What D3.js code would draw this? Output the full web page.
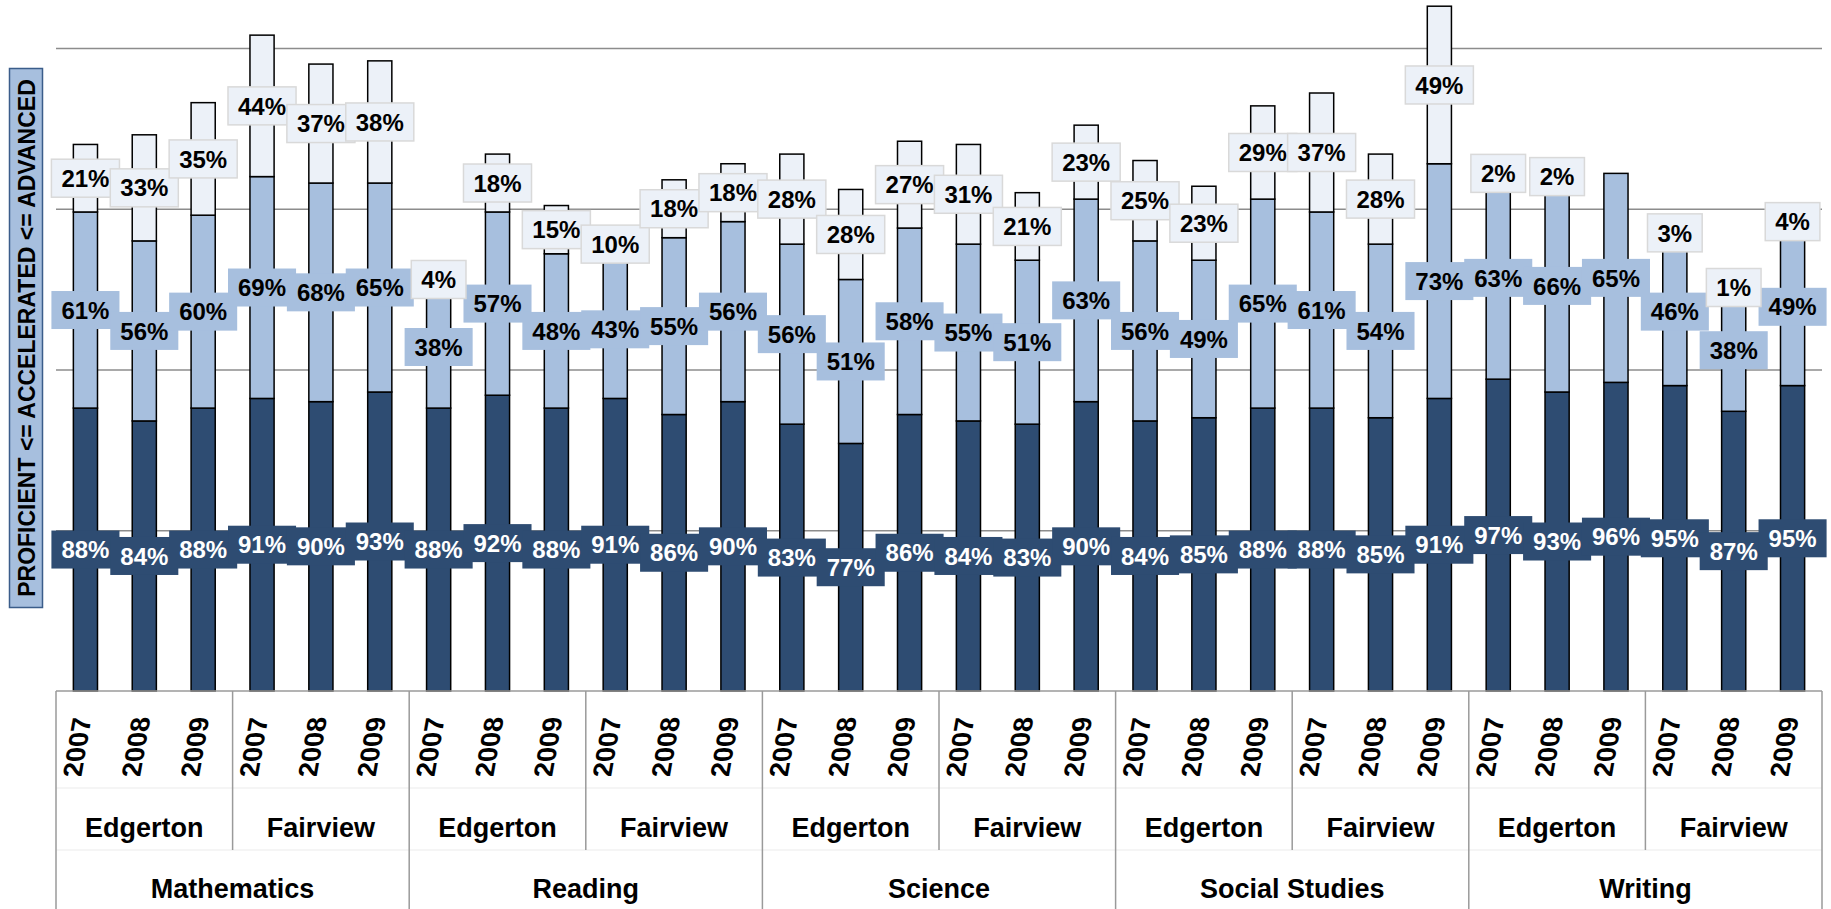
<!DOCTYPE html>
<html>
<head>
<meta charset="utf-8">
<script src="https://cdn.jsdelivr.net/npm/d3@7"></script>
<style>
  body { margin: 0; background: #fff; }
  svg { font-family: "Liberation Sans", Arial, sans-serif; font-weight: bold; }
</style>
</head>
<body>
<div id="chart"></div>
<script>
var w = 1831;
var h = 909;

var subjects = ["Mathematics", "Reading", "Science", "Social Studies", "Writing"];
var schools = ["Edgerton", "Fairview"];
var years = ["2007", "2008", "2009"];

// one value per bar, subject > school > year order
var proficient = [88, 84, 88, 91, 90, 93,
                  88, 92, 88, 91, 86, 90,
                  83, 77, 86, 84, 83, 90,
                  84, 85, 88, 88, 85, 91,
                  97, 93, 96, 95, 87, 95];
var accelerated = [61, 56, 60, 69, 68, 65,
                   38, 57, 48, 43, 55, 56,
                   56, 51, 58, 55, 51, 63,
                   56, 49, 65, 61, 54, 73,
                   63, 66, 65, 46, 38, 49];
var advanced = [21, 33, 35, 44, 37, 38,
                4, 18, 15, 10, 18, 18,
                28, 28, 27, 31, 21, 23,
                25, 23, 29, 37, 28, 49,
                2, 2, 0, 3, 1, 4];

var gridValues = [50, 100, 150, 200];

var colors = { proficient: "#2e4c72", accelerated: "#a7bfde", advanced: "#ecf1f8" };
var textColors = { proficient: "#ffffff", accelerated: "#000000", advanced: "#000000" };

// build rows
var rows = [];
var i = 0;
subjects.forEach(function(s) {
  schools.forEach(function(sc) {
    years.forEach(function(y) {
      rows.push({ key: s + "|" + sc + "|" + y, subject: s, school: sc, year: y,
                  proficient: proficient[i], accelerated: accelerated[i], advanced: advanced[i] });
      i++;
    });
  });
});

var left = 56, right = 1822, base = 691, plotTop = 48;

var xScale = d3.scaleBand()
  .domain(rows.map(function(d) { return d.key; }))
  .range([left, right])
  .paddingInner(0.59)
  .paddingOuter(0.295);

var yScale = d3.scaleLinear()
  .domain([0, 200])
  .range([base, plotTop]);

var svg = d3.select("#chart").append("svg")
  .attr("width", w)
  .attr("height", h);

// gridlines
var grid = svg.append("g")
  .attr("transform", "translate(" + left + ",0)")
  .call(d3.axisLeft(yScale).tickValues(gridValues).tickSize(-(right - left)).tickFormat(""));
grid.select(".domain").remove();
grid.selectAll("line").attr("stroke", "#8c8c8c").attr("stroke-width", 1.5);

// stacked bars
var keys = ["proficient", "accelerated", "advanced"];
var series = d3.stack().keys(keys)(rows);

var layers = svg.append("g").selectAll("g")
  .data(series)
  .enter().append("g")
  .attr("fill", function(d) { return colors[d.key]; });

layers.selectAll("rect")
  .data(function(d) { return d.filter(function(p) { return p[1] > p[0]; }); })
  .enter().append("rect")
  .attr("x", function(d) { return xScale(d.data.key); })
  .attr("width", xScale.bandwidth())
  .attr("y", function(d) { return yScale(d[1]); })
  .attr("height", function(d) { return yScale(d[0]) - yScale(d[1]); })
  .attr("stroke", "#000")
  .attr("stroke-width", 1.5);

// value labels
series.forEach(function(s) {
  var g = svg.append("g");
  var lab = g.selectAll("g")
    .data(s.filter(function(p) { return p[1] > p[0]; }))
    .enter().append("g")
    .attr("transform", function(d) {
      return "translate(" + (xScale(d.data.key) + xScale.bandwidth() / 2) + "," + yScale((d[0] + d[1]) / 2) + ")";
    });
  var box = lab.append("rect");
  var txt = lab.append("text")
    .attr("text-anchor", "middle")
    .attr("dy", "0.36em")
    .style("font-size", "24px")
    .attr("fill", textColors[s.key])
    .text(function(d) { return (d[1] - d[0]) + "%"; });
  box.each(function(d, j) {
    var tw = txt.nodes()[j].getComputedTextLength() + 20;
    d3.select(this)
      .attr("x", -tw / 2)
      .attr("y", -19)
      .attr("width", tw)
      .attr("height", 38)
      .attr("fill", colors[s.key])
      .attr("stroke", s.key == "advanced" ? "#d9d9d9" : "none")
      .attr("stroke-width", 1.5);
  });
});

// x axis: years
var xAxis = svg.append("g")
  .attr("transform", "translate(0," + base + ")")
  .call(d3.axisBottom(xScale).tickSize(0).tickFormat(function(k) { return k.split("|")[2]; }));
xAxis.select(".domain").remove();
xAxis.selectAll("text")
  .attr("font-family", "Liberation Sans, Arial, sans-serif")
  .style("font-size", "27px")
  .attr("fill", "#000")
  .attr("text-anchor", "middle")
  .attr("x", 0)
  .attr("y", 0)
  .attr("dy", 0)
  .attr("transform", "translate(1,56) rotate(-90) skewY(10)");

var lineColor = "#9a9a9a";
var step = xScale.step();
var axisLines = svg.append("g");

// faint row separators
[788, 850].forEach(function(yy) {
  axisLines.append("line")
    .attr("x1", left).attr("x2", right).attr("y1", yy).attr("y2", yy)
    .attr("stroke", "#ebebeb").attr("stroke-width", 1);
});
axisLines.append("line")
  .attr("x1", left).attr("x2", right).attr("y1", base).attr("y2", base)
  .attr("stroke", lineColor).attr("stroke-width", 1.5);

// school groups
var schoolGroups = [];
subjects.forEach(function(s) {
  schools.forEach(function(sc) { schoolGroups.push({ subject: s, school: sc }); });
});
schoolGroups.forEach(function(g, j) {
  var x0 = left + j * 3 * step;
  axisLines.append("line")
    .attr("x1", x0).attr("x2", x0).attr("y1", base).attr("y2", j % 2 == 0 ? h : 850)
    .attr("stroke", lineColor).attr("stroke-width", 1.5);
  svg.append("text")
    .attr("x", x0 + 1.5 * step)
    .attr("y", 837)
    .attr("text-anchor", "middle")
    .style("font-size", "27px")
    .text(g.school);
});
axisLines.append("line")
  .attr("x1", right).attr("x2", right).attr("y1", base).attr("y2", h)
  .attr("stroke", lineColor).attr("stroke-width", 1.5);

subjects.forEach(function(s, j) {
  svg.append("text")
    .attr("x", left + (j * 6 + 3) * step)
    .attr("y", 898)
    .attr("text-anchor", "middle")
    .style("font-size", "27px")
    .text(s);
});

// y title
svg.append("rect")
  .attr("x", 9.5).attr("y", 68.5)
  .attr("width", 33).attr("height", 539)
  .attr("fill", "#a7bfde")
  .attr("stroke", "#3b5d8a")
  .attr("stroke-width", 1.5);
svg.append("text")
  .attr("transform", "translate(35,338) rotate(-90)")
  .attr("text-anchor", "middle")
  .style("font-size", "23px")
  .text("PROFICIENT <= ACCELERATED <= ADVANCED");
</script>
</body>
</html>
